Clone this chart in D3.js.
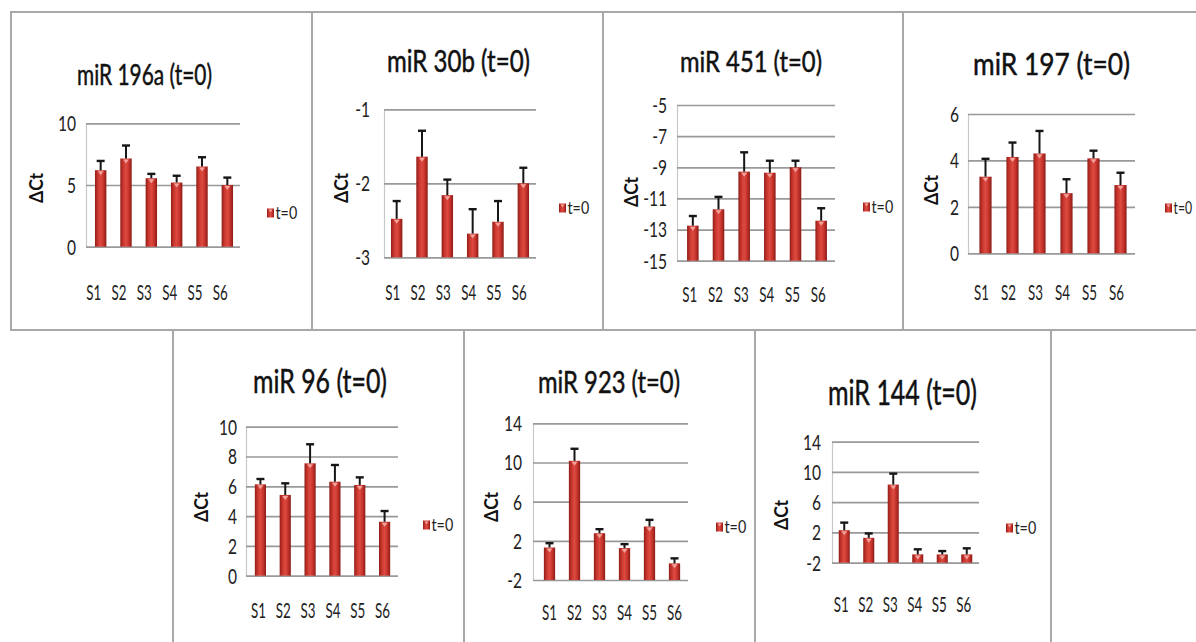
<!DOCTYPE html>
<html><head><meta charset="utf-8">
<script src="https://cdn.jsdelivr.net/npm/d3@7"></script>
<style>body{margin:0;background:#fff;overflow:hidden}svg{display:block}</style>
</head><body>
<svg id="c" width="1196" height="642"></svg>
<script>
// ---------- data ----------
const categories = ["S1","S2","S3","S4","S5","S6"];
const legendLabel = "t=0";
const yAxisTitle = "ΔCt";
const titles = ["miR 196a (t=0)","miR 30b (t=0)","miR 451 (t=0)","miR 197 (t=0)","miR 96 (t=0)","miR 923 (t=0)","miR 144 (t=0)"];

const miR196a    = [6.2, 7.15, 5.55, 5.2, 6.5, 5.0];
const miR196aErr = [0.75, 1.05, 0.35, 0.55, 0.75, 0.6];
const ticks196a  = [0, 5, 10];

const miR30b    = [-2.48, -1.64, -2.16, -2.68, -2.52, -2.0];
const miR30bErr = [0.24, 0.35, 0.21, 0.33, 0.28, 0.21];
const ticks30b  = [-3, -2, -1];

const miR451    = [-12.75, -11.7, -9.28, -9.35, -9.0, -12.43];
const miR451Err = [0.62, 0.8, 1.24, 0.77, 0.42, 0.8];
const ticks451  = [-15, -13, -11, -9, -7, -5];

const miR197    = [3.3, 4.15, 4.3, 2.59, 4.09, 2.94];
const miR197Err = [0.77, 0.62, 0.97, 0.6, 0.33, 0.53];
const ticks197  = [0, 2, 4, 6];

const miR96    = [6.13, 5.42, 7.54, 6.31, 6.09, 3.62];
const miR96Err = [0.36, 0.78, 1.28, 1.12, 0.51, 0.72];
const ticks96  = [0, 2, 4, 6, 8, 10];

const miR923    = [1.32, 10.17, 2.78, 1.26, 3.46, -0.3];
const miR923Err = [0.44, 1.23, 0.41, 0.4, 0.68, 0.51];
const ticks923  = [-2, 2, 6, 10, 14];

const miR144    = [2.3, 1.29, 8.33, -0.9, -0.9, -0.9];
const miR144Err = [1.0, 0.58, 1.45, 0.67, 0.44, 0.8];
const ticks144  = [-2, 2, 6, 10, 14];

const series = [
  {values: miR196a, errors: miR196aErr, ticks: ticks196a},
  {values: miR30b,  errors: miR30bErr,  ticks: ticks30b},
  {values: miR451,  errors: miR451Err,  ticks: ticks451},
  {values: miR197,  errors: miR197Err,  ticks: ticks197},
  {values: miR96,   errors: miR96Err,   ticks: ticks96},
  {values: miR923,  errors: miR923Err,  ticks: ticks923},
  {values: miR144,  errors: miR144Err,  ticks: ticks144}
];

// ---------- layout (positions / sizes only) ----------
const layout = [
  {box:[11,12,301,318],  t:{cx:144.5, y:85,  w:135, fs:29},   gx:[86,240],  bx:[88,240],  yr:[246.7,123.3], tr:76,  yt:[37,188],  leg:[267,213], lsx:0.84, xl:300, xs:-7},
  {box:[312,12,291,318], t:{cx:458.5, y:72,  w:143, fs:30},   gx:[384,536], bx:[384,536], yr:[257.3,109.3], tr:370, yt:[342,188], leg:[559,208], lsx:0.84, xl:300, xs:-4},
  {box:[603,12,300,318], t:{cx:751,   y:72,  w:142, fs:29.5}, gx:[677,835], bx:[680,834], yr:[260.7,105],   tr:667, yt:[632,192], leg:[863,207], lsx:0.84, xl:302, xs:-3},
  {box:[903,12,300,318], t:{cx:1051.5,y:75,  w:157, fs:31},   gx:[968,1135],bx:[972,1134],yr:[253.3,114],   tr:959, yt:[932,190], leg:[1165,208],lsx:0.72, xl:300, xs:-4},
  {box:[173,330,291,330],t:{cx:320,   y:393, w:134, fs:33},   gx:[246,398], bx:[248,397], yr:[575.7,426.7], tr:237, yt:[202,507], leg:[423,525], lsx:0.84, xl:618, xs:-2},
  {box:[464,330,291,330],t:{cx:609,   y:393, w:142, fs:31},   gx:[533,688], bx:[537,687], yr:[580,423.3],   tr:522, yt:[492,507], leg:[716,527], lsx:0.84, xl:620, xs:0},
  {box:[755,330,296,330],t:{cx:902.5, y:405, w:149, fs:34},   gx:[832,979], bx:[832,979], yr:[562.7,441.7], tr:821, yt:[782,515], leg:[1006,528],lsx:0.84, xl:612, xs:-3}
];

const FONT = "Lato,'Open Sans','Liberation Sans',sans-serif";
const svg = d3.select("#c");

// gradient for the cylinder-like bars
const defs = svg.append("defs");
const g = defs.append("linearGradient").attr("id","barGrad").attr("x1","0").attr("x2","1").attr("y1","0").attr("y2","0");
[["0%","#8f1d18"],["25%","#c9362e"],["50%","#dc4a40"],["75%","#c5332b"],["100%","#8a1b16"]].forEach(([o,c]) =>
  g.append("stop").attr("offset",o).attr("stop-color",c));

// panel borders
svg.append("g").selectAll("rect").data(layout).join("rect")
  .attr("x", d => d.box[0]).attr("y", d => d.box[1])
  .attr("width", d => d.box[2]).attr("height", d => d.box[3])
  .attr("fill","#fff").attr("stroke","#a8a8a8").attr("stroke-width",2);

series.forEach((s, i) => {
  const L = layout[i];
  const root = svg.append("g");

  // title
  root.append("text")
    .attr("x", L.t.cx).attr("y", L.t.y)
    .attr("text-anchor","middle")
    .attr("font-family", FONT).attr("font-size", L.t.fs)
    .attr("textLength", L.t.w).attr("lengthAdjust","spacingAndGlyphs")
    .attr("fill","#111").attr("stroke","#111").attr("stroke-width",0.5)
    .text(titles[i]);

  const y = d3.scaleLinear().domain(d3.extent(s.ticks)).range(L.yr);
  const x = d3.scaleBand().domain(categories).range(L.bx).paddingInner(0.55).paddingOuter(0.275);

  // y axis with gridlines
  const pad = L.gx[0]-L.tr;
  const yAxis = d3.axisLeft(y).tickValues(s.ticks)
    .tickSizeInner(-(L.gx[1]-L.gx[0])).tickSizeOuter(0)
    .tickPadding(pad).tickFormat(d => String(d));
  const ya = root.append("g").attr("transform", `translate(${L.gx[0]},0)`).call(yAxis);
  ya.select(".domain").attr("stroke","#c8c8c8").attr("stroke-width",1.2);
  ya.selectAll(".tick line").attr("stroke","#999").attr("stroke-width",1.7);
  ya.selectAll(".tick text").attr("x",0).attr("dy","0.36em")
    .attr("transform", `translate(${-pad},0) scale(0.76,1)`)
    .attr("font-family", FONT).attr("font-size",20.5).attr("fill","#222");

  // x axis labels
  const xAxis = d3.axisBottom(x).tickSize(0).tickPadding(0);
  const xa = root.append("g").attr("transform", `translate(${L.xs},${L.xl})`).call(xAxis);
  xa.select(".domain").remove();
  xa.selectAll(".tick text").attr("y",0).attr("dy",0)
    .attr("font-family", FONT).attr("font-size",21).attr("fill","#222")
    .attr("textLength",15).attr("lengthAdjust","spacingAndGlyphs");

  const rows = categories.map((c, k) => ({c, v: s.values[k], e: s.errors[k]}));
  const base = y.domain()[0];

  // bars
  root.append("g").selectAll("rect").data(rows).join("rect")
    .attr("x", d => x(d.c)).attr("width", x.bandwidth())
    .attr("y", d => y(d.v)).attr("height", d => y(base) - y(d.v))
    .attr("fill","url(#barGrad)");

  // light triangle highlight at bar tops
  root.append("g").selectAll("path").data(rows).join("path")
    .attr("d", d => {
      const cx = x(d.c) + x.bandwidth()/2, ty = y(d.v);
      return `M${cx-3},${ty+1}L${cx+3},${ty+1}L${cx},${ty+5}Z`;
    })
    .attr("fill","#f3a29b");

  // error bars
  const eb = root.append("g").attr("stroke","#161616").attr("stroke-width",2);
  eb.selectAll("line.v").data(rows).join("line").attr("class","v")
    .attr("x1", d => x(d.c) + x.bandwidth()/2).attr("x2", d => x(d.c) + x.bandwidth()/2)
    .attr("y1", d => y(d.v)).attr("y2", d => y(d.v + d.e));
  eb.selectAll("line.h").data(rows).join("line").attr("class","h")
    .attr("x1", d => x(d.c) + x.bandwidth()/2 - 4).attr("x2", d => x(d.c) + x.bandwidth()/2 + 4)
    .attr("y1", d => y(d.v + d.e)).attr("y2", d => y(d.v + d.e))
    .attr("stroke-width",2.4);

  // y axis title
  root.append("text")
    .attr("transform", `translate(${L.yt[0]},${L.yt[1]}) rotate(-90)`)
    .attr("text-anchor","middle").attr("dy","0.35em")
    .attr("font-family", FONT).attr("font-weight","bold").attr("font-size",18)
    .attr("textLength",30).attr("lengthAdjust","spacingAndGlyphs")
    .attr("fill","#111").text(yAxisTitle);

  // legend
  const lg = root.append("g").attr("transform", `translate(${L.leg[0]},${L.leg[1]})`);
  lg.append("rect").attr("x",0).attr("y",-4.5).attr("width",7).attr("height",9).attr("fill","url(#barGrad)");
  lg.append("path").attr("d","M1.5,-3.5L5.5,-3.5L3.5,-0.5Z").attr("fill","#f3a29b");
  lg.append("text").attr("x",0).attr("y",0).attr("dy","0.36em")
    .attr("transform", `translate(8.5,0) scale(${L.lsx},1)`)
    .attr("font-family", FONT).attr("font-size",17).attr("fill","#222")
    .text(legendLabel);
});
</script>
</body></html>
